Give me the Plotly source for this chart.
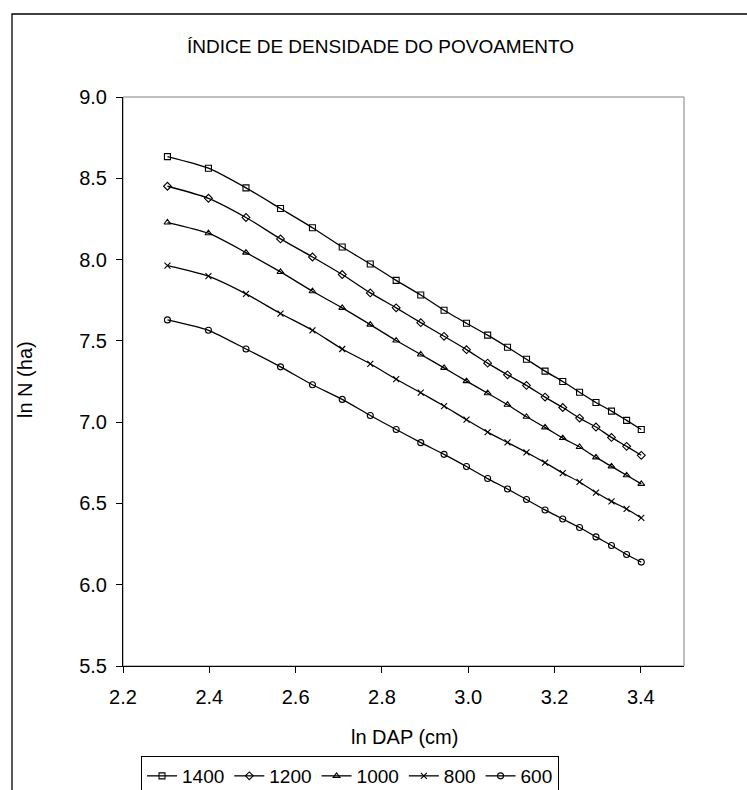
import plotly.graph_objects as go

# ln of diameter at breast height (cm), shared by all density curves
ln_dap = [2.303, 2.398, 2.485, 2.565, 2.639, 2.708, 2.773, 2.833, 2.890, 2.944,
          2.996, 3.045, 3.091, 3.135, 3.178, 3.219, 3.258, 3.296, 3.332, 3.367, 3.401]

# ln N (trees per ha) for each stand density index curve
sdi_1400 = [8.633, 8.562, 8.441, 8.314, 8.196, 8.077, 7.973, 7.872, 7.782, 7.688,
            7.608, 7.535, 7.461, 7.387, 7.314, 7.250, 7.184, 7.121, 7.068, 7.011, 6.955]
sdi_1200 = [8.451, 8.377, 8.259, 8.127, 8.016, 7.908, 7.795, 7.703, 7.612, 7.528,
            7.446, 7.363, 7.291, 7.226, 7.154, 7.090, 7.025, 6.970, 6.906, 6.851, 6.796]
sdi_1000 = [8.228, 8.162, 8.043, 7.924, 7.805, 7.703, 7.600, 7.502, 7.416, 7.334,
            7.252, 7.178, 7.107, 7.033, 6.968, 6.902, 6.847, 6.783, 6.728, 6.673, 6.620]
sdi_800 = [7.963, 7.898, 7.789, 7.668, 7.565, 7.450, 7.359, 7.264, 7.181, 7.099,
           7.015, 6.939, 6.875, 6.814, 6.751, 6.687, 6.632, 6.567, 6.513, 6.466, 6.411]
sdi_600 = [7.629, 7.565, 7.450, 7.340, 7.230, 7.140, 7.041, 6.955, 6.874, 6.802,
           6.727, 6.653, 6.589, 6.524, 6.460, 6.404, 6.352, 6.294, 6.241, 6.186, 6.139]

series_names = ["1400", "1200", "1000", "800", "600"]
series_values = [sdi_1400, sdi_1200, sdi_1000, sdi_800, sdi_600]
series_symbols = ["square-open", "diamond-open", "triangle-up-open", "x-thin-open", "circle-open"]

FONT = "Liberation Sans, Arial, sans-serif"
W, H = 747, 790
ML, MR, MT, MB = 123, 63, 97, 124
PW, PH = W - ML - MR, H - MT - MB


def px_x(px):
    return (px - ML) / PW


def px_y(py):
    return (H - MB - py) / PH


fig = go.Figure()
for name, vals, sym in zip(series_names, series_values, series_symbols):
    fig.add_trace(go.Scatter(
        x=ln_dap, y=vals, name=name, mode="lines+markers",
        line=dict(color="black", width=1.3, shape="spline", smoothing=0.6),
        marker=dict(symbol=sym, size=6, color="black", line=dict(color="black", width=1.1)),
    ))

axis_common = dict(
    showline=True, linecolor="black", linewidth=1,
    ticks="outside", ticklen=6, tickwidth=1, tickcolor="black",
    showgrid=False, zeroline=False,
    tickfont=dict(family=FONT, size=20, color="black"),
)

fig.update_layout(
    width=W, height=H,
    margin=dict(l=ML, r=MR, t=MT, b=MB, autoexpand=False),
    paper_bgcolor="white", plot_bgcolor="white",
    font=dict(family=FONT, size=19, color="black"),
    xaxis=dict(range=[2.2, 3.5], tick0=2.2, dtick=0.2, tickformat=".1f",
               ticklabelstandoff=7, **axis_common),
    yaxis=dict(range=[5.5, 9.0], tick0=5.5, dtick=0.5, tickformat=".1f",
               ticklabelstandoff=5, **axis_common),
    showlegend=True,
    legend=dict(
        orientation="h", x=px_x(141), y=px_y(756), xanchor="left", yanchor="top",
        bordercolor="black", borderwidth=1, bgcolor="white",
        font=dict(family=FONT, size=19, color="black"),
        itemwidth=30, tracegroupgap=0,
    ),
    shapes=[
        # plot area frame
        dict(type="rect", xref="paper", yref="paper", x0=0, x1=1, y0=0, y1=1,
             line=dict(color="#808080", width=1), layer="below"),
        # chart area frame
        dict(type="rect", xref="paper", yref="paper",
             x0=px_x(12), x1=px_x(770), y0=px_y(820), y1=px_y(14),
             line=dict(color="black", width=1.3), layer="below"),
    ],
    annotations=[
        dict(text="ÍNDICE DE DENSIDADE DO POVOAMENTO", xref="paper", yref="paper",
             x=px_x(380), y=px_y(47), xanchor="center", yanchor="middle",
             showarrow=False, font=dict(family=FONT, size=19, color="black")),
        dict(text="ln DAP (cm)", xref="paper", yref="paper",
             x=px_x(404), y=px_y(737), xanchor="center", yanchor="middle",
             showarrow=False, font=dict(family=FONT, size=20, color="black")),
        dict(text="ln N (ha)", xref="paper", yref="paper",
             x=px_x(25), y=px_y(380), xanchor="center", yanchor="middle",
             textangle=-90, showarrow=False, font=dict(family=FONT, size=20, color="black")),
    ],
)

fig.write_html("out.html")
